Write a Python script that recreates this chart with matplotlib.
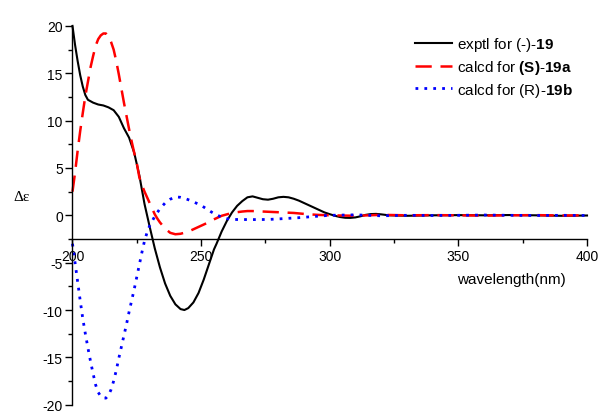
import matplotlib.pyplot as plt
from matplotlib.ticker import MultipleLocator

plt.rcParams['font.family'] = ['Liberation Sans', 'DejaVu Sans']
plt.rcParams['mathtext.fontset'] = 'custom'
plt.rcParams['mathtext.rm'] = 'Liberation Sans'
plt.rcParams['mathtext.bf'] = 'Liberation Sans:bold'
plt.rcParams['axes.unicode_minus'] = False

# exptl for (-)-19
wl_exp = [200, 201, 202, 203, 204, 205, 206, 208, 210, 212, 214, 216, 218, 220,
          222, 224, 226, 228, 230, 232, 234, 236, 238, 240, 242, 243.5, 245, 247,
          249, 251, 253, 255, 256, 258, 260, 262, 264, 266, 268, 270, 272, 274,
          276, 278, 280, 282, 284, 286, 288, 290, 292, 294, 296, 298, 300, 302,
          304, 306, 308, 310, 312, 314, 316, 318, 320, 323, 330, 340, 350, 360,
          370, 380, 390, 400]
de_exp = [20.0, 18.0, 16.3, 14.8, 13.6, 12.7, 12.2, 11.9, 11.7, 11.6, 11.4, 11.1,
          10.4, 9.2, 8.2, 6.6, 4.2, 1.2, -1.2, -3.5, -5.5, -7.2, -8.5, -9.4, -9.9,
          -10.0, -9.8, -9.2, -8.2, -6.8, -5.2, -3.6, -3.0, -1.7, -0.6, 0.3, 1.0,
          1.5, 1.9, 2.0, 1.85, 1.7, 1.65, 1.75, 1.9, 1.95, 1.9, 1.75, 1.55, 1.3,
          1.05, 0.8, 0.55, 0.3, 0.12, -0.05, -0.18, -0.26, -0.27, -0.22, -0.1,
          0.05, 0.13, 0.15, 0.1, 0.0, -0.05, 0.0, 0.02, 0.0, 0.03, 0.0, -0.05, -0.02]

# calcd for (S)-19a
wl_s = [200, 201, 202, 203, 204, 205, 206, 207, 208, 209, 210, 211, 212, 213, 214,
        215, 216, 217, 218, 219, 220, 221, 222, 223, 224, 225, 226, 227, 228, 229,
        230, 231, 232, 233, 234, 236, 238, 240, 242, 244, 246, 248, 250, 252, 254,
        256, 258, 260, 262, 264, 266, 268, 270, 274, 278, 282, 286, 290, 295, 300,
        310, 320, 330, 340, 350, 360, 370, 380, 390, 400]
de_s = [2.5, 4.5, 6.8, 8.9, 10.8, 12.6, 14.1, 15.6, 16.8, 17.9, 18.6, 19.0, 19.2,
        19.2, 18.9, 18.3, 17.5, 16.3, 14.9, 13.4, 11.9, 10.5, 9.1, 7.8, 6.6, 5.5,
        4.0, 3.2, 2.5, 1.9, 1.3, 0.7, 0.1, -0.35, -0.75, -1.4, -1.85, -2.0, -1.95,
        -1.8, -1.6, -1.35, -1.1, -0.85, -0.55, -0.3, -0.05, 0.1, 0.25, 0.33, 0.4,
        0.45, 0.45, 0.4, 0.35, 0.3, 0.25, 0.15, 0.05, 0.0, -0.05, 0.05, 0.0, 0.02,
        0.0, -0.03, 0.0, 0.02, -0.02, 0.0]

# calcd for (R)-19b
wl_r = [200, 201, 202, 203, 204, 205, 206, 207, 208, 209, 210, 211, 212, 213, 214,
        215, 216, 217, 218, 219, 220, 221, 222, 223, 224, 225, 226, 227, 228, 229,
        230, 231, 232, 234, 236, 238, 240, 242, 244, 246, 248, 250, 252, 254, 256,
        258, 260, 263, 270, 276, 282, 288, 294, 300, 310, 320, 330, 340, 350, 360,
        370, 380, 390, 400]
de_r = [-3.0, -5.0, -7.0, -9.0, -10.9, -12.5, -14.0, -15.4, -16.7, -17.9, -18.7,
        -19.1, -19.3, -19.3, -19.0, -18.4, -17.5, -16.4, -15.1, -13.9, -12.7, -11.5,
        -10.2, -9.0, -7.8, -6.5, -5.2, -3.9, -2.7, -1.8, -1.1, -0.6, -0.1, 0.7, 1.3,
        1.7, 1.95, 1.9, 1.75, 1.55, 1.3, 1.05, 0.7, 0.35, 0.05, -0.2, -0.35, -0.44,
        -0.45, -0.44, -0.35, -0.25, -0.12, 0.0, 0.05, -0.05, 0.0, -0.02, 0.0, 0.03,
        0.0, -0.02, 0.0, -0.02]

fig = plt.figure(figsize=(5.99, 4.14), dpi=100)
ax = fig.add_axes([0.121, 0.02, 0.859, 0.915])

ax.plot(wl_exp, de_exp, color='black', lw=1.5, label=r'exptl for (-)-$\mathbf{19}$', clip_on=False)
ax.plot(wl_s, de_s, color='#ff0000', lw=1.8, dashes=(6.5, 3.5),
        label=r'calcd for $\mathbf{(S)\text{-}19a}$', clip_on=False)
ax.plot(wl_r, de_r, color='#0000ff', lw=2.0, dashes=(1, 2.2),
        label=r'calcd for (R)-$\mathbf{19b}$', clip_on=False)

ax.set_xlim(200, 400)
ax.set_ylim(-20, 20)
ax.spines['top'].set_visible(False)
ax.spines['right'].set_visible(False)
ax.spines['bottom'].set_position(('data', -2.5))
ax.spines['left'].set_linewidth(1.0)
ax.spines['bottom'].set_linewidth(1.0)

ax.xaxis.set_major_locator(MultipleLocator(50))
ax.xaxis.set_minor_locator(MultipleLocator(25))
ax.yaxis.set_major_locator(MultipleLocator(5))
ax.yaxis.set_minor_locator(MultipleLocator(2.5))
ax.tick_params(which='major', length=5, width=1.0, labelsize=10, pad=2)
ax.tick_params(which='minor', length=3, width=1.0)

fig.text(0.853, 0.324, 'wavelength(nm)', fontsize=11, ha='center', va='center')
fig.text(0.036, 0.524, 'Δε', fontsize=11, family='Liberation Serif',
         ha='center', va='center')

ax.legend(loc='upper left', bbox_to_anchor=(0.693, 0.912), bbox_transform=fig.transFigure,
          frameon=False, fontsize=11, handlelength=2.4, handletextpad=0.35,
          labelspacing=0.3, borderpad=0, borderaxespad=0)

fig.savefig('out.png', dpi=100)
